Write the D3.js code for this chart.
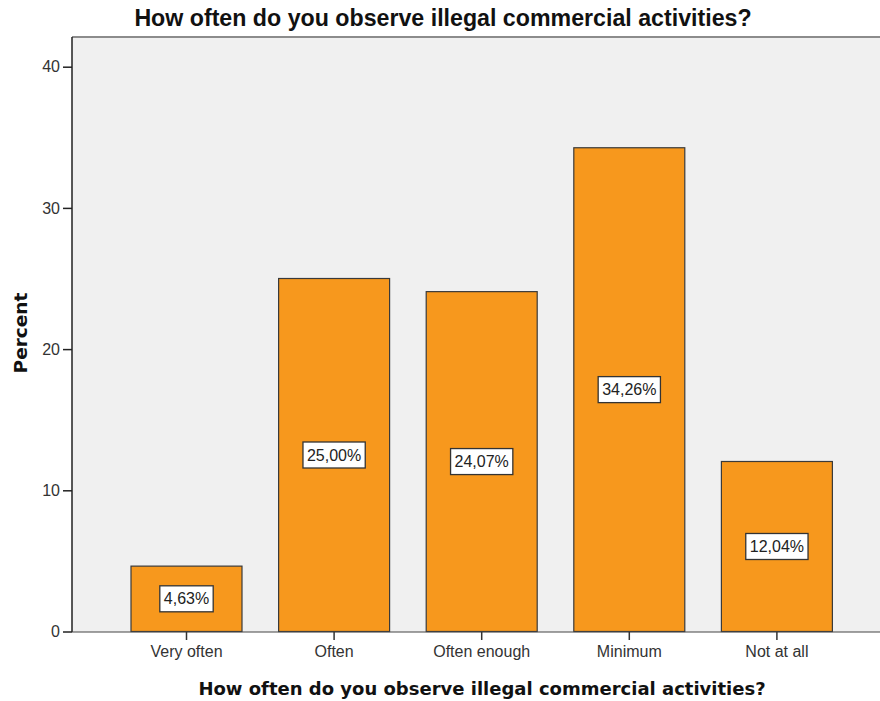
<!DOCTYPE html>
<html>
<head>
<meta charset="utf-8">
<script src="https://cdn.jsdelivr.net/npm/d3@7"></script>
<style>
  body { margin: 0; background: #fff; }
  svg { display: block; }
</style>
</head>
<body>
<svg id="chart" width="880" height="701"></svg>
<script>
// Survey answers and their share of respondents (%)
const categories = ["Very often", "Often", "Often enough", "Minimum", "Not at all"];
const percents = [4.63, 25.00, 24.07, 34.26, 12.04];
const yTicks = [0, 10, 20, 30, 40];
const chartTitle = "How often do you observe illegal commercial activities?";
const xTitle = "How often do you observe illegal commercial activities?";
const yTitle = "Percent";

const svg = d3.select("#chart");
const plot = { left: 72, right: 895, top: 37, bottom: 632 };

const x = d3.scaleBand()
  .domain(categories)
  .range([112.7, 850.7])
  .paddingInner(0.248)
  .paddingOuter(0.124);

const y = d3.scaleLinear()
  .domain([0, 40])
  .range([631.5, 66.7]);

// plot background
svg.append("rect")
  .attr("x", plot.left).attr("y", plot.top)
  .attr("width", plot.right - plot.left).attr("height", plot.bottom - plot.top)
  .attr("fill", "#f0f0f0");
svg.append("line")
  .attr("x1", plot.left).attr("x2", plot.right)
  .attr("y1", plot.top).attr("y2", plot.top)
  .attr("stroke", "#8c8c8c").attr("stroke-width", 2);

// bars
svg.append("g").selectAll("rect")
  .data(percents)
  .join("rect")
  .attr("x", (d, i) => x(categories[i]))
  .attr("y", d => y(d))
  .attr("width", x.bandwidth())
  .attr("height", d => y(0) - y(d))
  .attr("fill", "#f7981d")
  .attr("stroke", "#3a3a3a")
  .attr("stroke-width", 1.2);

// value labels in white boxes at bar mid-height
const fmt = v => d3.format(".2f")(v).replace(".", ",") + "%";
const labels = svg.append("g").selectAll("g")
  .data(percents)
  .join("g")
  .attr("transform", (d, i) => `translate(${x(categories[i]) + x.bandwidth() / 2},${y(d / 2)})`);
labels.each(function(d) {
  const g = d3.select(this);
  const t = g.append("text")
    .attr("text-anchor", "middle")
    .attr("dy", "0.35em")
    .attr("font-family", "Liberation Sans, Arial, sans-serif")
    .attr("font-size", 16)
    .attr("fill", "#222")
    .text(fmt(d));
  const w = t.node().getComputedTextLength() + 8;
  g.insert("rect", "text")
    .attr("x", -w / 2).attr("y", -13)
    .attr("width", w).attr("height", 26)
    .attr("fill", "#fff")
    .attr("stroke", "#333")
    .attr("stroke-width", 1.3);
});

// y axis
const yAxis = svg.append("g")
  .attr("transform", `translate(${plot.left},0)`)
  .call(d3.axisLeft(y).tickValues(yTicks).tickSize(9).tickPadding(3));
yAxis.select(".domain")
  .attr("d", `M0,${plot.top}V${plot.bottom}`)
  .attr("stroke", "#222").attr("stroke-width", 1.5);
yAxis.selectAll(".tick line").attr("stroke", "#222").attr("stroke-width", 1.5);
yAxis.selectAll(".tick text")
  .attr("font-family", "Liberation Sans, Arial, sans-serif")
  .attr("font-size", 16).attr("fill", "#333");

// x axis
const xAxis = svg.append("g")
  .attr("transform", `translate(0,${plot.bottom})`)
  .call(d3.axisBottom(x).tickSize(8).tickPadding(6));
xAxis.select(".domain")
  .attr("d", `M${plot.left},0H${plot.right}`)
  .attr("stroke", "#444").attr("stroke-width", 1.2);
xAxis.selectAll(".tick line").attr("stroke", "#333").attr("stroke-width", 1.5);
xAxis.selectAll(".tick text")
  .attr("font-family", "Liberation Sans, Arial, sans-serif")
  .attr("font-size", 16).attr("fill", "#333");

// titles
svg.append("text")
  .attr("x", 443).attr("y", 26)
  .attr("text-anchor", "middle")
  .attr("font-family", "Liberation Sans, Arial, sans-serif")
  .attr("font-weight", "bold").attr("font-size", 23.2)
  .attr("fill", "#111")
  .text(chartTitle);

svg.append("text")
  .attr("x", 482).attr("y", 695)
  .attr("text-anchor", "middle")
  .attr("font-family", "DejaVu Sans, Verdana, sans-serif")
  .attr("font-weight", "bold").attr("font-size", 18)
  .attr("fill", "#111")
  .text(xTitle);

svg.append("text")
  .attr("transform", "translate(27,333) rotate(-90)")
  .attr("text-anchor", "middle")
  .attr("font-family", "DejaVu Sans, Verdana, sans-serif")
  .attr("font-weight", "bold").attr("font-size", 18.5)
  .attr("fill", "#111")
  .text(yTitle);
</script>
</body>
</html>
